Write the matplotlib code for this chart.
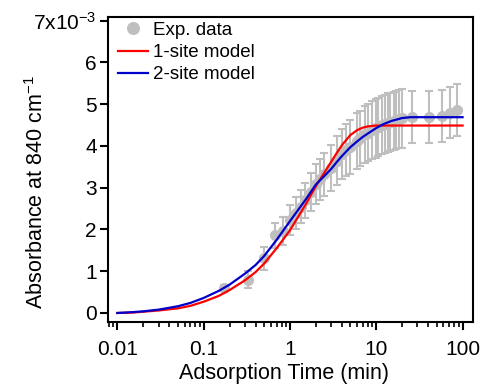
import numpy as np
import matplotlib
matplotlib.use("Agg")
import matplotlib.pyplot as plt
from matplotlib.ticker import LogLocator, NullFormatter, FixedLocator

plt.rcParams["font.family"] = ["Liberation Sans", "DejaVu Sans"]
plt.rcParams["mathtext.fontset"] = "custom"
plt.rcParams["mathtext.rm"] = "Liberation Sans"
plt.rcParams["mathtext.it"] = "Liberation Sans"

# experimental data (time in min, absorbance in units of 1e-3)
exp_t = [0.17, 0.33, 0.5, 0.67, 0.83, 1.0, 1.17, 1.33, 1.5, 1.75, 2.0, 2.25,
         2.5, 3.0, 3.5, 4.0, 4.5, 5.0, 6.0, 6.5, 7.5, 8.0, 9.0, 10.0, 10.5,
         11.5, 12.5, 13.5, 14.5, 16.0, 17.0, 18.5, 20.0, 26.0, 41.0, 57.0,
         71.0, 87.0]
exp_a = [0.61, 0.80, 1.31, 1.86, 1.97, 2.22, 2.40, 2.55, 2.70, 2.90, 3.08,
         3.20, 3.32, 3.48, 3.65, 3.80, 3.90, 3.98, 4.12, 4.18, 4.28, 4.32,
         4.38, 4.42, 4.45, 4.50, 4.53, 4.56, 4.58, 4.60, 4.62, 4.64, 4.66,
         4.69, 4.69, 4.72, 4.80, 4.86]
exp_err = [0.05, 0.20, 0.28, 0.30, 0.33, 0.36, 0.38, 0.40, 0.42, 0.45, 0.48,
           0.50, 0.52, 0.55, 0.58, 0.60, 0.62, 0.64, 0.66, 0.67, 0.68, 0.68,
           0.69, 0.70, 0.70, 0.70, 0.70, 0.70, 0.70, 0.70, 0.70, 0.70, 0.70,
           0.62, 0.62, 0.62, 0.62, 0.62]

# model curves
model_t = [0.01, 0.015, 0.02, 0.03, 0.05, 0.07, 0.1, 0.15, 0.2, 0.3, 0.4,
           0.5, 0.7, 1.0, 1.5, 2.0, 2.5, 3.0, 3.5, 4.0, 5.0, 6.0, 7.0, 8.0,
           10.0, 12.0, 15.0, 20.0, 25.0, 50.0, 100.0]
one_site = [0.00, 0.01, 0.03, 0.06, 0.11, 0.17, 0.27, 0.41, 0.55, 0.78, 0.98,
            1.18, 1.55, 1.98, 2.58, 3.04, 3.36, 3.62, 3.84, 4.02, 4.26, 4.38,
            4.44, 4.47, 4.49, 4.49, 4.49, 4.49, 4.49, 4.49, 4.49]
two_site = [0.00, 0.02, 0.04, 0.08, 0.16, 0.24, 0.36, 0.53, 0.68, 0.94, 1.15,
            1.36, 1.75, 2.20, 2.70, 3.08, 3.28, 3.45, 3.62, 3.76, 3.97, 4.11,
            4.22, 4.30, 4.43, 4.52, 4.60, 4.67, 4.69, 4.69, 4.69]

y_ticks = [0, 1, 2, 3, 4, 5, 6, 7]
y_labels = ["0", "1", "2", "3", "4", "5", "6", r"7x10$^{-3}$"]

fig = plt.figure(figsize=(4.87, 3.88), dpi=100)
ax = fig.add_axes([0.2218, 0.1701, 0.7495, 0.7861])

eb = ax.errorbar(exp_t, exp_a, yerr=exp_err, fmt="o", color="#bfbfbf",
                 ecolor="#bfbfbf", markersize=7, elinewidth=1.5, capsize=3,
                 capthick=1.5, zorder=2)
red, = ax.plot(model_t, one_site, color="#ff0000", lw=1.6, zorder=3)
blue, = ax.plot(model_t, two_site, color="#0000cc", lw=1.6, zorder=4)

ax.set_xscale("log")
ax.set_xlim(10 ** -2.108, 10 ** 2.121)
ax.set_ylim(-0.216, 7.09)
ax.set_xticks([0.01, 0.1, 1, 10, 100])
ax.set_xticklabels(["0.01", "0.1", "1", "10", "100"])
ax.xaxis.set_minor_locator(LogLocator(base=10, subs=np.arange(2, 10)))
ax.xaxis.set_minor_formatter(NullFormatter())
ax.yaxis.set_major_locator(FixedLocator(y_ticks))
ax.set_yticklabels(y_labels)

for s in ax.spines.values():
    s.set_linewidth(1.5)
ax.tick_params(axis="both", which="major", direction="out", length=6,
               width=1.5, labelsize=15)
ax.tick_params(axis="x", which="major", pad=7)
ax.tick_params(axis="y", which="major", pad=2)
ax.tick_params(axis="x", which="minor", direction="out", length=3.5, width=1.2)

ax.set_xlabel("Adsorption Time (min)", fontsize=15.5)
ax.set_ylabel(r"Absorbance at 840 cm$^{-1}$", fontsize=15.5)
ax.xaxis.set_label_coords(0.482, -0.135)
ax.yaxis.set_label_coords(-0.165, 0.426)

ax.legend([eb[0], red, blue], ["Exp. data", "1-site model", "2-site model"],
          loc="upper left", bbox_to_anchor=(0.027, 0.985), frameon=False,
          borderpad=0, borderaxespad=0, fontsize=13.5, handlelength=1.6,
          handletextpad=0.3, labelspacing=0.28, markerscale=1.2)

fig.savefig("out.png", dpi=100)
